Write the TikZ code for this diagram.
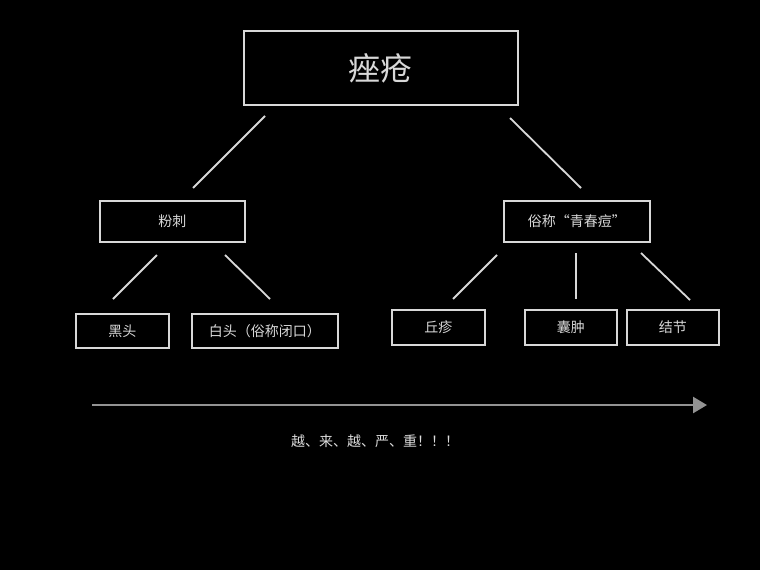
\documentclass[tikz,border=0pt]{standalone}
\usepackage{fontspec}
\newfontfamily\cjk{Noto Sans CJK SC}
\usetikzlibrary{arrows.meta}
\definecolor{chalk}{HTML}{D8D8D8}
\begin{document}
\begin{tikzpicture}[x=1pt,y=-1pt,
  box/.style={draw=chalk,line width=1.8pt,inner sep=0pt,anchor=north west},
  lbl/.style={text=chalk,font=\cjk\fontsize{14}{16}\selectfont},
  conn/.style={draw=chalk,line width=1.8pt}]
\fill[black] (0,0) rectangle (760,570);
\useasboundingbox (0,0) rectangle (760,570);
\node[box,minimum width=274pt,minimum height=74pt] (top) at (243,30) {};
\node[text=chalk,font=\cjk\fontsize{32}{36}\selectfont] at (top.center) {痤疮};
\node[box,minimum width=145pt,minimum height=41pt] (fc) at (99,200) {};
\node[lbl] at (fc.center) {粉刺};
\node[box,minimum width=146pt,minimum height=41pt] (qc) at (503,200) {};
\node[lbl] at (qc.center) {俗称“青春痘”};
\node[box,minimum width=93pt,minimum height=34pt] (ht) at (75,313) {};
\node[lbl] at (ht.center) {黑头};
\node[box,minimum width=146pt,minimum height=34pt] (bt) at (191,313) {};
\node[lbl] at (bt.center) {白头（俗称闭口）};
\node[box,minimum width=93pt,minimum height=35pt] (qz) at (391,309) {};
\node[lbl] at (qz.center) {丘疹};
\node[box,minimum width=92pt,minimum height=35pt] (nz) at (524,309) {};
\node[lbl] at (nz.center) {囊肿};
\node[box,minimum width=92pt,minimum height=35pt] (jj) at (626,309) {};
\node[lbl] at (jj.center) {结节};
\coordinate (a1) at (265,116); \coordinate (a2) at (193,188);
\coordinate (b1) at (510,118); \coordinate (b2) at (581,188);
\coordinate (c1) at (157,255); \coordinate (c2) at (113,299);
\coordinate (d1) at (225,255); \coordinate (d2) at (270,299);
\coordinate (e1) at (497,255); \coordinate (e2) at (453,299);
\coordinate (f1) at (576,253); \coordinate (f2) at (576,299);
\coordinate (g1) at (641,253); \coordinate (g2) at (690,300);
\foreach \s/\t in {a1/a2,b1/b2,c1/c2,d1/d2,e1/e2,f1/f2,g1/g2}
  \draw[conn] (\s) -- (\t);
\coordinate (r1) at (92,405); \coordinate (r2) at (707,405);
\draw[draw=gray!85,line width=2.5pt,-{Triangle[length=14pt,width=16pt]}] (r1) -- (r2);
\node[text=chalk!90,font=\cjk\fontsize{14}{16}\selectfont] (msg) at (375,441) {越、来、越、严、重！！！};
\end{tikzpicture}
\end{document}
